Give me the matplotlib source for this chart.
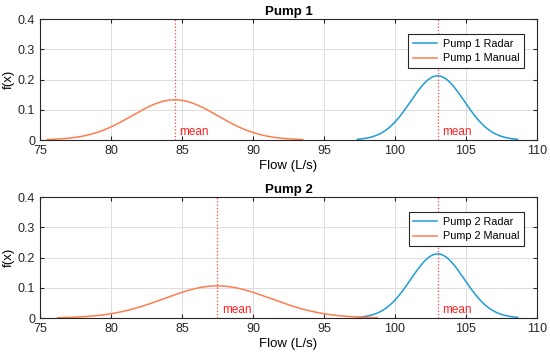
import numpy as np
import matplotlib
matplotlib.use("Agg")
import matplotlib.pyplot as plt

plt.rcParams['font.family'] = ['Liberation Sans', 'DejaVu Sans']

# fitted normal parameters (L/s)
pumps = ['Pump 1', 'Pump 2']
radar_mean = [103.0, 103.0]
radar_std = [1.88, 1.88]
manual_mean = [84.5, 87.5]
manual_std = [3.0, 3.75]

blue = '#1f9bd8'
orange = '#ff7d4d'


def normal_pdf(mu, sd):
    x = np.linspace(mu - 3 * sd, mu + 3 * sd, 300)
    return x, np.exp(-0.5 * ((x - mu) / sd) ** 2) / (sd * np.sqrt(2 * np.pi))


fig = plt.figure(figsize=(5.5, 3.59), dpi=100)
boxes = [[0.0727, 0.61, 0.9036, 0.337], [0.0727, 0.114, 0.9036, 0.337]]

for i, name in enumerate(pumps):
    ax = fig.add_axes(boxes[i])
    xr, yr = normal_pdf(radar_mean[i], radar_std[i])
    xm, ym = normal_pdf(manual_mean[i], manual_std[i])
    ax.plot(xr, yr, color=blue, lw=1.1, label=name + ' Radar')
    ax.plot(xm, ym, color=orange, lw=1.1, label=name + ' Manual')

    # mean markers
    for mu in (radar_mean[i], manual_mean[i]):
        ax.axvline(mu, color='#ff4040', ls=':', lw=0.9, zorder=1)
        ax.text(mu + 0.3, 0.018, 'mean', color='#ff2020', fontsize=8.5)

    ax.set_xlim(75, 110)
    ax.set_ylim(0, 0.4)
    ax.set_xticks(np.arange(75, 111, 5))
    ax.set_yticks([0, 0.1, 0.2, 0.3, 0.4])
    ax.set_yticklabels(['0', '0.1', '0.2', '0.3', '0.4'])
    ax.grid(True, color='#dddddd', lw=0.7)
    ax.set_axisbelow(True)
    ax.tick_params(direction='in', top=True, right=True, labelsize=9,
                   colors='#262626', length=3)
    for s in ax.spines.values():
        s.set_color('#262626')
        s.set_linewidth(0.8)
    ax.set_title(name, fontsize=9.5, fontweight='bold', pad=3)
    ax.set_xlabel('Flow (L/s)', fontsize=9.5, labelpad=2)
    ax.set_ylabel('f(x)', fontsize=9.5, labelpad=2)
    leg = ax.legend(loc='upper right', fontsize=7.8, fancybox=False,
                    edgecolor='#262626', framealpha=1, borderpad=0.45,
                    handlelength=2.2, handletextpad=0.5, labelspacing=0.4,
                    bbox_to_anchor=(0.985, 0.92))
    leg.get_frame().set_linewidth(0.8)

fig.savefig('out.png', dpi=100)
